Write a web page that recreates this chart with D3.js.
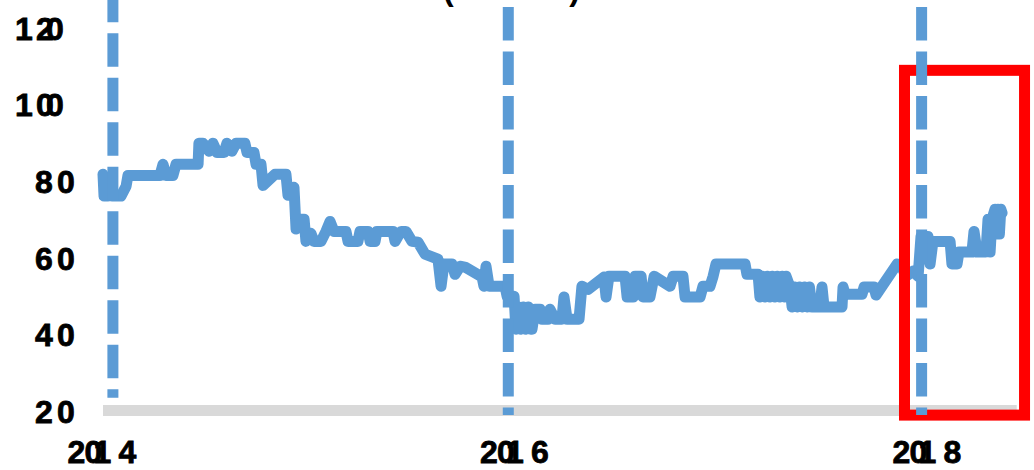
<!DOCTYPE html>
<html>
<head>
<meta charset="utf-8">
<script src="https://cdn.jsdelivr.net/npm/d3@7"></script>
<style>html,body{margin:0;padding:0;background:#fff;overflow:hidden}</style>
</head>
<body>
<svg id="chart" width="1034" height="470"></svg>
<script>
// ---- data (decimal years, index level) ----
const dates = [
  2014.000,2014.005,2014.024,2014.034,2014.044,2014.087,2014.112,2014.121,2014.276,2014.291,
  2014.305,2014.339,2014.354,2014.461,2014.465,2014.485,2014.514,2014.533,2014.553,2014.587,
  2014.601,2014.625,2014.645,2014.688,2014.698,2014.732,2014.742,2014.766,2014.776,2014.834,
  2014.887,2014.897,2014.926,2014.936,2014.955,2014.975,2014.984,2015.008,2015.023,2015.057,
  2015.081,2015.101,2015.120,2015.178,2015.188,2015.236,2015.246,2015.285,2015.295,2015.319,
  2015.328,2015.406,2015.416,2015.430,2015.445,2015.469,2015.498,2015.527,2015.561,2015.624,
  2015.639,2015.653,2015.692,2015.707,2015.731,2015.755,2015.838,2015.847,2015.857,2015.872,
  2015.949,2015.959,2015.993,2016.002,2016.014,2016.026,2016.038,2016.050,2016.062,2016.074,2016.080,
  2016.095,2016.119,2016.128,2016.158,2016.167,
  2016.192,2016.225,2016.235,2016.250,2016.308,2016.322,2016.352,2016.429,2016.439,2016.453,
  2016.531,2016.541,2016.570,2016.580,2016.609,2016.618,2016.652,2016.672,2016.749,2016.764,
  2016.812,2016.822,2016.895,2016.909,2016.943,2016.958,2016.972,2017.113,2017.122,2017.176,
  2017.185,2017.197,2017.209,2017.221,2017.233,2017.245,2017.257,2017.269,2017.281,2017.293,2017.305,2017.312,
  2017.331,2017.341,2017.353,2017.365,2017.377,2017.389,2017.401,2017.413,2017.425,2017.437,2017.452,
  2017.476,2017.486,2017.496,2017.583,2017.588,2017.598,2017.680,2017.690,2017.738,2017.748,
  2017.850,2017.874,2017.893,2017.927,2017.952,2017.966,2018.000,2018.010,2018.024,2018.107,
  2018.116,2018.141,2018.150,2018.213,2018.223,2018.238,2018.281,2018.291,2018.301,2018.310,
  2018.325,2018.332,2018.339,2018.346,2018.353,2018.359
];
const values = [
  81.6,75.9,75.9,78.5,75.9,75.9,78.5,81.3,81.3,84.2,
  81.3,81.3,84.2,84.2,89.7,89.7,87.6,89.7,87.3,87.3,
  89.7,87.6,89.7,89.7,87.3,87.3,84.2,84.2,78.7,81.6,
  81.6,76.1,78.2,67.3,69.9,69.9,64.1,66.2,64.1,64.1,
  66.7,69.3,66.7,66.7,64.1,64.1,66.7,66.7,64.1,64.1,
  66.7,66.7,64.1,65.4,66.7,66.7,64.1,63.9,60.8,59.5,
  52.4,58.2,58.2,55.5,57.6,57.4,54.8,52.4,57.6,52.4,
  52.4,49.8,49.8,41.2,47.0,41.2,47.0,41.2,47.0,41.2,41.2,
  46.4,46.4,43.8,43.8,46.4,
  43.8,43.8,49.6,43.8,43.8,52.4,51.6,54.8,49.6,55.0,
  55.0,49.6,49.6,55.0,55.0,49.6,49.6,55.0,52.4,55.0,
  55.0,49.6,49.6,52.4,52.4,55.0,58.2,58.2,55.5,55.5,
  49.6,55.0,49.6,55.0,49.6,55.0,49.6,55.0,49.6,55.0,49.6,55.0,
  52.2,47.0,52.2,47.0,52.2,47.0,52.2,47.0,52.2,47.0,47.0,
  47.0,52.2,47.0,47.0,52.2,50.3,50.3,52.2,52.2,50.1,
  58.2,57.4,55.0,56.3,55.0,65.4,65.4,58.2,64.1,64.1,
  58.2,58.2,61.3,61.3,66.7,61.3,61.3,69.9,61.3,69.9,
  72.5,66.0,72.5,66.0,72.5,71.5
];
const yTicks = [20, 40, 60, 80, 100, 120];
const xTicks = [2014, 2016, 2018];
const xTickLabels = ['2014', '2016', '2018'];
const eventDates = [2014.048, 2015.965, 2017.969];
const eventTop = [130, 125.2, 125.2];
const eventBottom = [23.3, 18.8, 18.8];
const highlightX = [2017.886, 2018.468];
const highlightY = [18.8, 108.7];
const titleText = '(USD bn)';

// ---- drawing ----
const svg = d3.select('#chart');
const font = "'Liberation Sans', Arial, sans-serif";
const blue = '#5B9BD5';
const x = d3.scaleLinear().domain([2014, 2018.43]).range([103, 1016.7]);
const y = d3.scaleLinear().domain([20, 120]).range([410.5, 27]);

svg.append('rect').attr('width', 1034).attr('height', 470).attr('fill', '#fff');

// title (mostly above the visible area, as in the reference)
svg.append('text').attr('x', 511.5).attr('y', -0.5).attr('text-anchor', 'middle')
  .attr('font-family', font).attr('font-size', 32).attr('font-weight', 'bold')
  .attr('fill', '#000').text(titleText);

// baseline
svg.append('line')
  .attr('x1', x.range()[0]).attr('x2', x.range()[1])
  .attr('y1', y(20)).attr('y2', y(20))
  .attr('stroke', '#D9D9D9').attr('stroke-width', 11);

// series
const data = dates.map((d, i) => ({ d, v: values[i] }));
svg.append('path').datum(data)
  .attr('d', d3.line().x(p => x(p.d)).y(p => y(p.v)))
  .attr('fill', 'none').attr('stroke', blue).attr('stroke-width', 11)
  .attr('stroke-linejoin', 'round').attr('stroke-linecap', 'round');

// highlight box
svg.append('rect')
  .attr('x', x(highlightX[0])).attr('y', y(highlightY[1]))
  .attr('width', x(highlightX[1]) - x(highlightX[0]))
  .attr('height', y(highlightY[0]) - y(highlightY[1]))
  .attr('fill', 'none').attr('stroke', '#FF0000').attr('stroke-width', 11);

// event lines
svg.selectAll('line.event').data(eventDates).join('line').attr('class', 'event')
  .attr('x1', d => x(d)).attr('x2', d => x(d))
  .attr('y1', (d, i) => y(eventTop[i])).attr('y2', (d, i) => y(eventBottom[i]))
  .attr('stroke', blue).attr('stroke-width', 11).attr('stroke-dasharray', '33.5 11');

// y axis
const gY = svg.append('g').call(d3.axisLeft(y).tickValues(yTicks).tickSize(0));
gY.select('.domain').remove();
gY.selectAll('text')
  .attr('text-anchor', 'start').attr('dy', null).attr('y', 12)
  .attr('x', d => String(d).length === 3 ? '15 36 46' : '35 57')
  .attr('font-family', font).attr('font-size', 32).attr('font-weight', 'bold')
  .attr('fill', '#000').attr('stroke', '#000').attr('stroke-width', 0.8);

// x axis
const gX = svg.append('g').attr('transform', `translate(0,${y(20)})`)
  .call(d3.axisBottom(x).tickValues(xTicks).tickSize(0).tickFormat((d, i) => xTickLabels[i]));
gX.select('.domain').remove();
gX.selectAll('text')
  .attr('text-anchor', 'start').attr('dy', null).attr('y', 52.5)
  .attr('x', '-36 -19 -10 15')
  .attr('font-family', font).attr('font-size', 32).attr('font-weight', 'bold')
  .attr('fill', '#000').attr('stroke', '#000').attr('stroke-width', 0.8);
</script>
</body>
</html>
